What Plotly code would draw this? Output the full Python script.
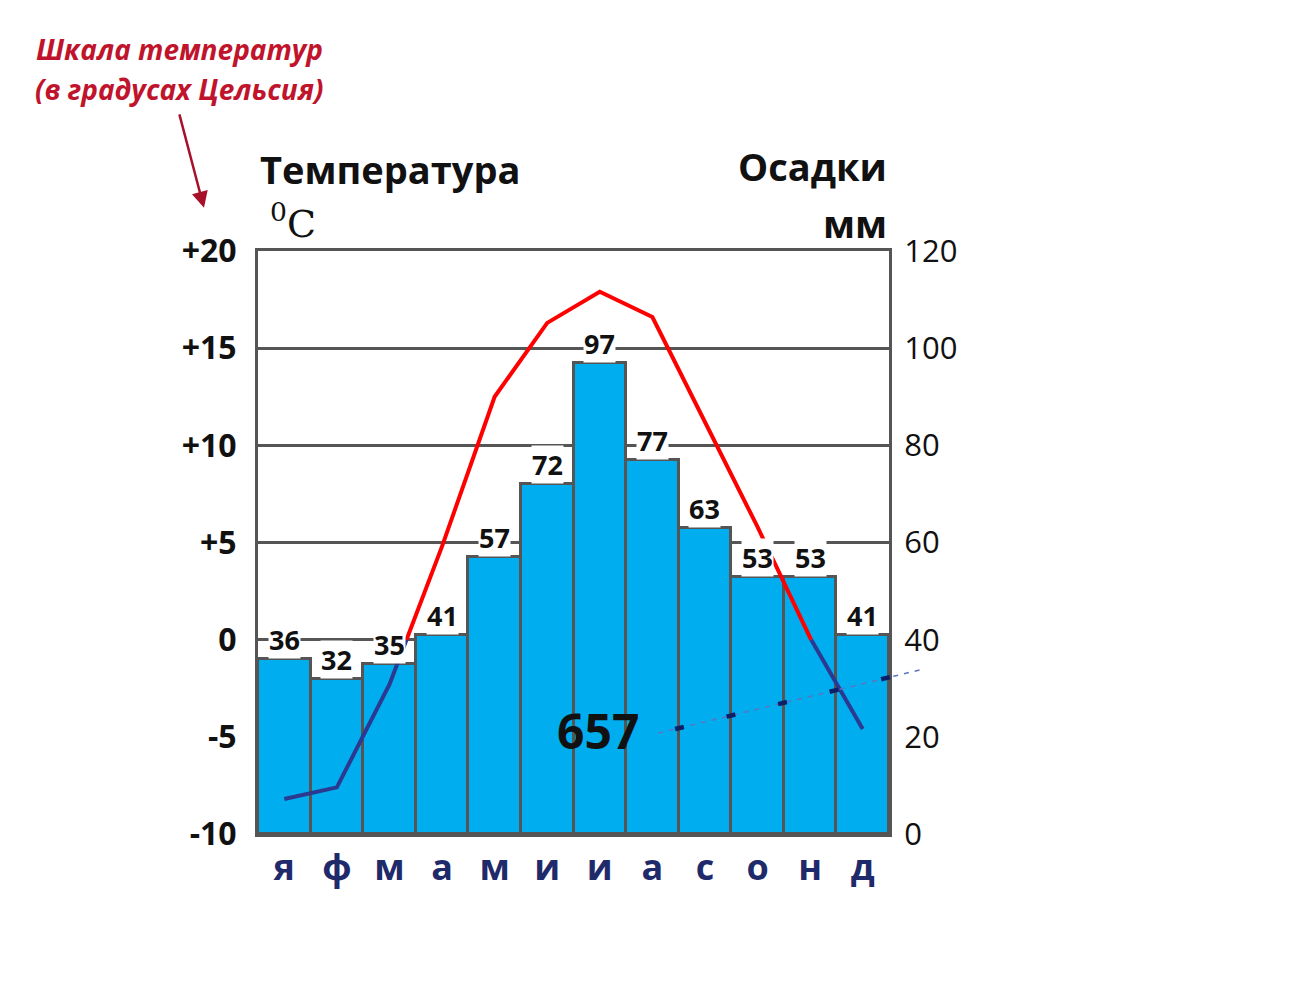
import plotly.graph_objects as go

# climate chart data
months = ["январь", "февраль", "март", "апрель", "май", "июнь",
          "июль", "август", "сентябрь", "октябрь", "ноябрь", "декабрь"]
month_letters = ["я", "ф", "м", "а", "м", "и", "и", "а", "с", "о", "н", "д"]
precip_mm = [36, 32, 35, 41, 57, 72, 97, 77, 63, 53, 53, 41]
temp_c = [-8.2, -7.6, -2.3, 4.8, 12.5, 16.3, 17.9, 16.6, 11.2, 5.8, 0.1, -4.6]
temp_ticks = [20, 15, 10, 5, 0, -5, -10]
temp_tick_labels = ["+20", "+15", "+10", "+5", "0", "-5", "-10"]
total_precip = "657"

x_idx = list(range(len(months)))

BAR = "#00AEEF"
GRID = "#555555"
NAVY = "#2B3990"
RED = "#FF0000"
DARKRED = "#C0142C"
FONT = "Open Sans"


def split_at_zero(xs, ys):
    # add the zero crossing points so the line can change colour there
    px, py = [xs[0]], [ys[0]]
    for i in range(1, len(xs)):
        y0, y1 = ys[i - 1], ys[i]
        if (y0 < 0 < y1) or (y1 < 0 < y0):
            t = y0 / (y0 - y1)
            px.append(xs[i - 1] + t * (xs[i] - xs[i - 1]))
            py.append(0)
        px.append(xs[i])
        py.append(ys[i])
    warm = [v if v >= 0 else None for v in py]
    cold = [v if v <= 0 else None for v in py]
    return px, warm, cold


lx, warm, cold = split_at_zero(x_idx, temp_c)

fig = go.Figure()

fig.add_trace(go.Bar(
    x=x_idx, y=precip_mm, yaxis="y",
    marker=dict(color=BAR, line=dict(color=GRID, width=3)),
    hoverinfo="y", name="Осадки"
))
fig.add_trace(go.Scatter(
    x=lx, y=cold, yaxis="y2", mode="lines",
    line=dict(color=NAVY, width=4), connectgaps=False, name="t"
))
fig.add_trace(go.Scatter(
    x=lx, y=warm, yaxis="y2", mode="lines",
    line=dict(color=RED, width=4), connectgaps=False, name="t"
))

annotations = []
# value labels above bars
for i, v in zip(x_idx, precip_mm):
    annotations.append(dict(
        x=i, y=v, xref="x", yref="y", text=str(v), showarrow=False,
        yanchor="bottom", bgcolor="white", borderpad=0,
        font=dict(family=FONT, size=27, color="#111111", weight="bold")
    ))

annotations += [
    dict(x=0, y=1.141, xref="paper", yref="paper", text="<b>Температура</b>",
         xanchor="left", yanchor="middle", showarrow=False,
         font=dict(family=FONT, size=38, color="#111111")),
    dict(x=0.016, y=1.052, xref="paper", yref="paper", text="<sup>0</sup>C",
         xanchor="left", yanchor="middle", showarrow=False,
         font=dict(family="DejaVu Serif", size=38, color="#111111")),
    dict(x=1, y=1.146, xref="paper", yref="paper", text="<b>Осадки</b>",
         xanchor="right", yanchor="middle", showarrow=False,
         font=dict(family=FONT, size=38, color="#111111")),
    dict(x=1, y=1.048, xref="paper", yref="paper", text="<b>мм</b>",
         xanchor="right", yanchor="middle", showarrow=False,
         font=dict(family=FONT, size=38, color="#111111")),
    dict(x=-0.125, y=1.346, xref="paper", yref="paper",
         text="<b><i>Шкала температур</i></b>",
         xanchor="center", yanchor="middle", showarrow=False,
         font=dict(family=FONT, size=28, color=DARKRED)),
    dict(x=-0.125, y=1.278, xref="paper", yref="paper",
         text="<b><i>(в градусах Цельсия)</i></b>",
         xanchor="center", yanchor="middle", showarrow=False,
         font=dict(family=FONT, size=28, color=DARKRED)),
    dict(x=-0.0856, y=1.074, xref="paper", yref="paper", text="",
         showarrow=True, ax=-25, ay=-95, arrowhead=2, arrowsize=1.3,
         arrowwidth=2.5, arrowcolor="#A8102A"),
    dict(x=0.539, y=0.177, xref="paper", yref="paper",
         text="<b>" + total_precip + "</b>", showarrow=False,
         xanchor="center", yanchor="middle",
         font=dict(family=FONT, size=48, color="#111111")),
]

shapes = [
    dict(type="line", xref="paper", yref="paper",
         x0=0.634, y0=0.173, x1=1.051, y1=0.282,
         line=dict(color="#5c74c0", width=1.5, dash="5px,6px")),
    dict(type="line", xref="paper", yref="paper",
         x0=0.661, y0=0.180, x1=1.051, y1=0.282,
         line=dict(color="#0d1f66", width=4.5, dash="9px,44px")),
]

fig.update_layout(
    width=1290, height=997,
    margin=dict(l=250, r=409, t=243, b=171),
    paper_bgcolor="white", plot_bgcolor="white",
    showlegend=False, bargap=0,
    font=dict(family=FONT, color="#111111"),
    xaxis=dict(
        range=[-0.5, 11.5], tickvals=x_idx, ticktext=month_letters,
        tickfont=dict(family=FONT, size=36, color="#1F2A6B", weight="bold"),
        showgrid=False, zeroline=False, ticks="",
        showline=True, mirror=True, linecolor=GRID, linewidth=3,
        ticklabelstandoff=0, fixedrange=True
    ),
    yaxis=dict(
        range=[0, 120], dtick=20, side="right",
        tickfont=dict(family=FONT, size=31, color="#111111"),
        showgrid=True, gridcolor=GRID, gridwidth=2.5, zeroline=False,
        showline=True, linecolor=GRID, linewidth=3, ticks="",
        ticklabelstandoff=6, fixedrange=True
    ),
    yaxis2=dict(
        range=[-10, 20], overlaying="y", side="left",
        tickvals=temp_ticks, ticktext=temp_tick_labels,
        tickfont=dict(family=FONT, size=32, color="#111111", weight="bold"),
        showgrid=False, zeroline=False,
        showline=True, linecolor=GRID, linewidth=3, ticks="",
        ticklabelstandoff=12, fixedrange=True
    ),
    annotations=annotations,
    shapes=shapes,
)

fig.write_html("out.html")
